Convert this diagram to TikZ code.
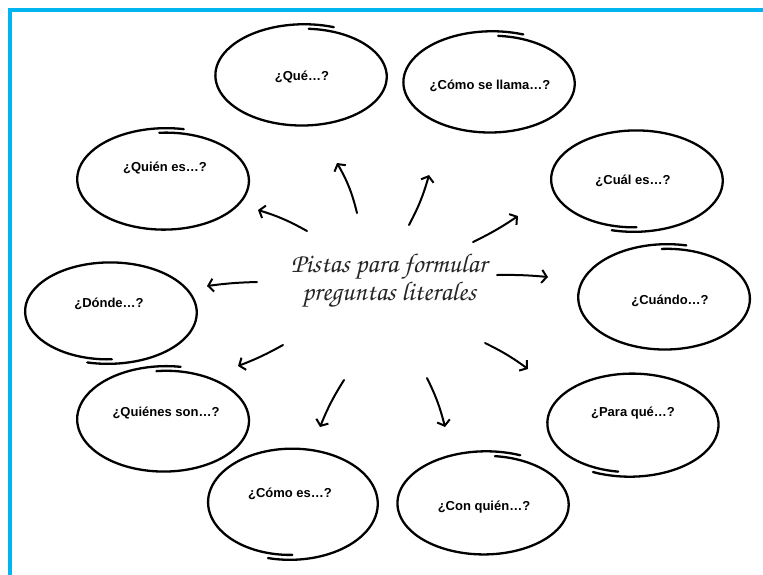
\documentclass[tikz,border=0pt]{standalone}
\usepackage[T1]{fontenc}
\usepackage{fontspec}
\setmainfont{Liberation Sans}
\usetikzlibrary{arrows.meta,shapes.geometric}
\newcommand\pistasfont{\fontencoding{T1}\fontfamily{pzc}\fontseries{mb}\fontshape{it}\selectfont}
\definecolor{framecol}{HTML}{00B4EF}
\tikzset{
  frameline/.style={draw=framecol,line width=4pt},
  bubbletext/.style={font=\fontsize{13}{15}\selectfont\bfseries,text=black},
  bubbleline/.style={line width=2.3pt,line cap=round,line join=round},
  arrowline/.style={line width=2pt,line cap=round,-{Straight Barb[length=5pt,width=13pt]}},
  titletext/.style={font=\pistasfont\fontsize{27}{26}\selectfont,align=center,text=black!85}
}
\newcommand\bubble[7]{%
  \node[bubbletext] (#1) at #6 {#7};
  \begin{scope}[shift={#2}]
    \draw[bubbleline] plot[domain=#5:#5+376,samples=100,smooth]
      ({#3*(1-0.09*(\x-#5)/376)*cos(\x)},{-#4*(1-0.09*(\x-#5)/376)*sin(\x)});
  \end{scope}}
\begin{document}
\begin{tikzpicture}[x=1pt,y=-1pt]
\useasboundingbox (0,0) rectangle (763,574);
\fill[white] (0,0) rectangle (763,574);
\draw[frameline] (9.5,576) -- (9.5,10) -- (765,10);

\node[titletext] (center) at (389,281) {Pistas para formular\\preguntas literales};

\bubble{que}{(303,76)}{90}{52}{70}{(302,77)}{¿Qué…?}
\bubble{llama}{(491,83)}{90}{52}{69}{(490,86)}{¿Cómo se llama…?}
\bubble{quien}{(165,180)}{90}{52}{78}{(165,168)}{¿Quién es…?}
\bubble{cual}{(635,180)}{90}{52}{255}{(633,181)}{¿Cuál es…?}
\bubble{donde}{(109,312)}{90}{52}{256}{(109,304)}{¿Dónde…?}
\bubble{cuando}{(666,298)}{90}{54}{77}{(670,301)}{¿Cuándo…?}
\bubble{quienes}{(165,420)}{90}{54}{80}{(166,413)}{¿Quiénes son…?}
\bubble{para}{(631,424)}{90}{53}{245}{(633,413)}{¿Para qué…?}
\bubble{comoes}{(291,503)}{89}{57}{255}{(290,494)}{¿Cómo es…?}
\bubble{con}{(485,504)}{90}{53}{67}{(484,507)}{¿Con quién…?}

\coordinate (s1) at (357,213); \coordinate (e1) at (337,163);
\coordinate (s2) at (307,231); \coordinate (e2) at (258,210);
\coordinate (s3) at (409,225); \coordinate (e3) at (429,175);
\coordinate (s4) at (473,242); \coordinate (e4) at (518,216);
\coordinate (s5) at (497,275); \coordinate (e5) at (548,277);
\coordinate (s6) at (257,282); \coordinate (e6) at (207,286);
\coordinate (s7) at (283,345); \coordinate (e7) at (238,366);
\coordinate (s8) at (344,380); \coordinate (e8) at (320,427);
\coordinate (s9) at (427,378); \coordinate (e9) at (445,427);
\coordinate (s10) at (485,343); \coordinate (e10) at (528,369);

\draw[arrowline] (s1) to[bend right=8] (e1);
\draw[arrowline] (s2) to[bend right=6] (e2);
\draw[arrowline] (s3) to[bend right=6] (e3);
\draw[arrowline] (s4) to[bend right=4] (e4);
\draw[arrowline] (s5) to[bend left=3] (e5);
\draw[arrowline] (s6) to[bend right=3] (e6);
\draw[arrowline] (s7) to[bend left=4] (e7);
\draw[arrowline] (s8) to[bend right=5] (e8);
\draw[arrowline] (s9) to[bend left=6] (e9);
\draw[arrowline] (s10) to[bend left=5] (e10);
\end{tikzpicture}
\end{document}
